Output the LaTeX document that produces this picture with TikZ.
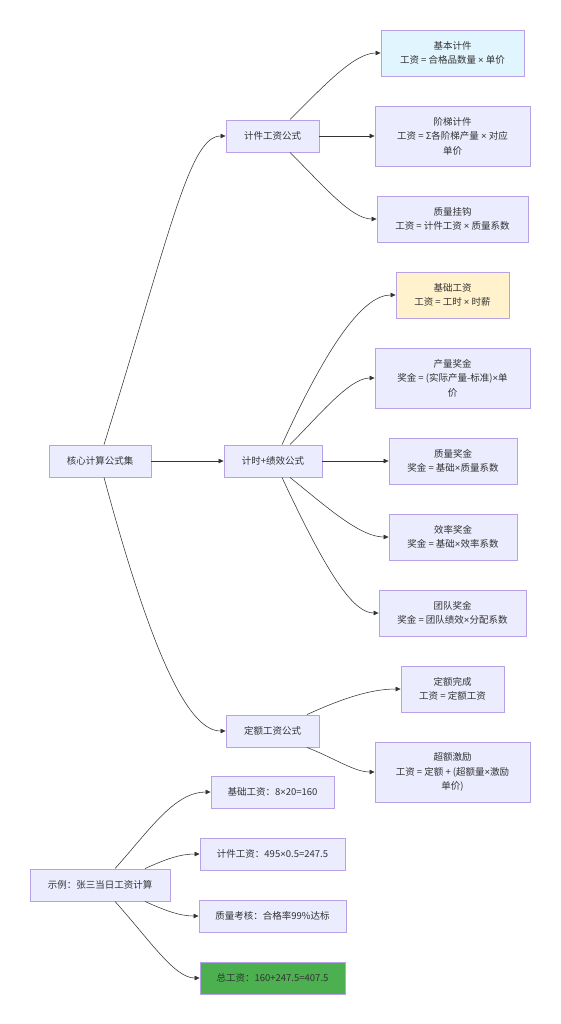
\documentclass[tikz,border=0pt]{standalone}
\usepackage{fontspec}
\setmainfont{Noto Sans CJK SC}
\newfontfamily\latinf{Liberation Sans}
\newcommand\tms{{\latinf ×}}
\usetikzlibrary{arrows.meta,calc}
\definecolor{boxfill}{HTML}{ECECFF}
\definecolor{bordc}{HTML}{B7A2E8}
\definecolor{txt}{HTML}{333333}
\definecolor{linec}{HTML}{333333}
\definecolor{bluefill}{HTML}{E1F5FE}
\definecolor{yellowfill}{HTML}{FFF2CC}
\definecolor{greenfill}{HTML}{4CAF50}
\tikzset{
  box/.style={draw=bordc, fill=boxfill, line width=0.9pt, text=txt, align=center,
    inner sep=0pt, font=\fontsize{9.5}{14.5}\selectfont},
  conn/.style={draw=linec, line width=0.55pt, -{Triangle[length=5pt,width=4.5pt]}}
}
\begin{document}
\begin{tikzpicture}[x=1pt,y=-1pt]
\useasboundingbox (0,0) rectangle (560,1024);
% level 0
\node[box, minimum width=102pt, minimum height=32pt] (core) at (100,461) {核心计算公式集};
% level 1
\node[box, minimum width=93pt, minimum height=32pt] (jj) at (272.5,136) {计件工资公式};
\node[box, minimum width=98pt, minimum height=32pt] (js) at (273,461) {计时+绩效公式};
\node[box, minimum width=93pt, minimum height=32pt] (de) at (272.5,731) {定额工资公式};
% level 2
\node[box, fill=bluefill, minimum width=143pt, minimum height=46pt] (jb) at (452.5,53) {基本计件\\工资 = 合格品数量 \tms{} 单价};
\node[box, minimum width=155pt, minimum height=60pt] (jt) at (452.5,136) {阶梯计件\\工资 = Σ各阶梯产量 \tms{} 对应\\单价};
\node[box, minimum width=151pt, minimum height=46pt] (zg) at (452.5,219) {质量挂钩\\工资 = 计件工资 \tms{} 质量系数};
\node[box, fill=yellowfill, minimum width=113pt, minimum height=46pt] (jc) at (452.5,295) {基础工资\\工资 = 工时 \tms{} 时薪};
\node[box, minimum width=155pt, minimum height=60pt] (cl) at (452.5,378) {产量奖金\\奖金 = (实际产量-标准)\tms{}单\\价};
\node[box, minimum width=128pt, minimum height=46pt] (zl) at (453,461) {质量奖金\\奖金 = 基础\tms{}质量系数};
\node[box, minimum width=128pt, minimum height=46pt] (xl) at (453,537) {效率奖金\\奖金 = 基础\tms{}效率系数};
\node[box, minimum width=147pt, minimum height=46pt] (td) at (452.5,613) {团队奖金\\奖金 = 团队绩效\tms{}分配系数};
\node[box, minimum width=103pt, minimum height=46pt] (dw) at (452.5,689) {定额完成\\工资 = 定额工资};
\node[box, minimum width=155pt, minimum height=60pt] (ce) at (452.5,772) {超额激励\\工资 = 定额 + (超额量\tms{}激励\\单价)};
% example
\node[box, minimum width=140pt, minimum height=32pt] (ex) at (100,885) {示例：张三当日工资计算};
\node[box, minimum width=123pt, minimum height=32pt] (e1) at (272.5,792) {基础工资：8\tms{}20=160};
\node[box, minimum width=145pt, minimum height=32pt] (e2) at (272.5,854) {计件工资：495\tms{}0.5=247.5};
\node[box, minimum width=147pt, minimum height=32pt] (e3) at (272.5,916) {质量考核：合格率99\%达标};
\node[box, fill=greenfill, minimum width=145pt, minimum height=32pt] (e4) at (272.5,978) {总工资：160+247.5=407.5};
% connectors
\draw[conn] ($(core.north)+(4,0)$) .. controls ($(core.north)+(71,-215)$) and ($(jj.west)+(-36,0)$) .. (jj.west);
\draw[conn] (core.east) -- (js.west);
\draw[conn] ($(core.south)+(4,0)$) .. controls ($(core.south)+(56,193)$) and ($(de.west)+(-34,0)$) .. (de.west);

\draw[conn] ($(jj.north)+(17.5,0)$) .. controls ($(jj.north)+(52.5,-35)$) and ($(jb.west)+(-26,0)$) .. (jb.west);
\draw[conn] (jj.east) -- (jt.west);
\draw[conn] ($(jj.south)+(17.5,0)$) .. controls ($(jj.south)+(52.5,35)$) and ($(zg.west)+(-25,0)$) .. (zg.west);

\draw[conn] ($(js.north)+(9,0)$) .. controls ($(js.north)+(57,-105)$) and ($(jc.west)+(-31,0)$) .. (jc.west);
\draw[conn] ($(js.north)+(17,0)$) .. controls ($(js.north)+(47,-30)$) and ($(cl.west)+(-25,0)$) .. (cl.west);
\draw[conn] (js.east) -- (zl.west);
\draw[conn] ($(js.south)+(17,0)$) .. controls ($(js.south)+(52,28)$) and ($(xl.west)+(-29,0)$) .. (xl.west);
\draw[conn] ($(js.south)+(9,0)$) .. controls ($(js.south)+(57,103)$) and ($(td.west)+(-24,0)$) .. (td.west);

\draw[conn] ($(de.north)+(34.5,0)$) .. controls ($(de.north)+(67.5,-15)$) and ($(dw.west)+(-31,0)$) .. (dw.west);
\draw[conn] ($(de.south)+(34.5,0)$) .. controls ($(de.south)+(62.5,11)$) and ($(ce.west)+(-20,0)$) .. (ce.west);

\draw[conn] ($(ex.north)+(15,0)$) .. controls ($(ex.north)+(50,-39)$) and ($(e1.west)+(-36,0)$) .. (e1.west);
\draw[conn] ($(ex.north)+(45,0)$) .. controls ($(ex.north)+(65,-9)$) and ($(e2.west)+(-20,0)$) .. (e2.west);
\draw[conn] ($(ex.south)+(45,0)$) .. controls ($(ex.south)+(65,9)$) and ($(e3.west)+(-19,0)$) .. (e3.west);
\draw[conn] ($(ex.south)+(15,0)$) .. controls ($(ex.south)+(50,39)$) and ($(e4.west)+(-25,0)$) .. (e4.west);
\end{tikzpicture}
\end{document}
